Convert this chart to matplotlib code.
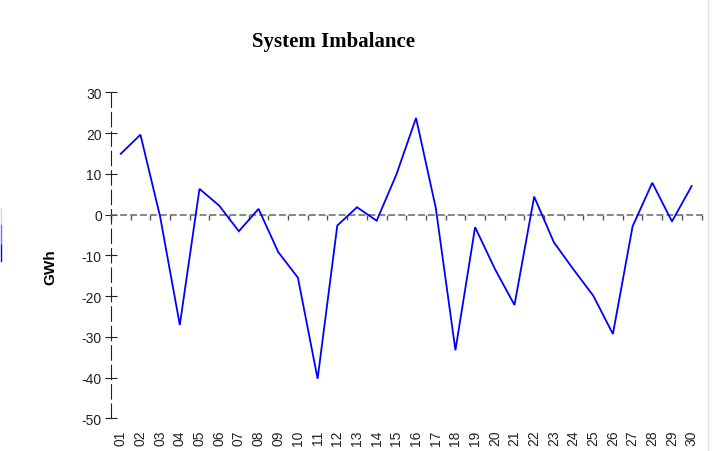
import matplotlib
matplotlib.use("Agg")
import matplotlib.pyplot as plt
from matplotlib.lines import Line2D
import numpy as np

days = ["01", "02", "03", "04", "05", "06", "07", "08", "09", "10",
        "11", "12", "13", "14", "15", "16", "17", "18", "19", "20",
        "21", "22", "23", "24", "25", "26", "27", "28", "29", "30"]
imbalance = [14.9, 19.6, -0.5, -27.1, 6.3, 2.2, -4.1, 1.4, -9.2, -15.5,
             -40.3, -2.7, 1.8, -1.5, 9.8, 23.7, 1.7, -33.3, -3.1, -13.3,
             -22.2, 4.4, -6.8, -13.5, -19.9, -29.3, -2.9, 7.8, -1.7, 7.0]
y_ticks = [30, 20, 10, 0, -10, -20, -30, -40, -50]

W, H = 712, 452
fig = plt.figure(figsize=(W / 100, H / 100), dpi=100)
ax = fig.add_axes([110.9 / W, (H - 419.3) / H, 590.6 / W, 326.0 / H])

x = np.arange(len(days))
ax.plot(x, imbalance, color="#0000ff", lw=1.3, zorder=3, solid_joinstyle="miter")

ax.set_xlim(-0.5, len(days) - 0.5)
ax.set_ylim(-50, 30)

# spines
for s in ["top", "right"]:
    ax.spines[s].set_visible(False)
ax.spines["left"].set_linestyle((0, (13, 4.5)))
ax.spines["left"].set_linewidth(0.8)
ax.spines["left"].set_color("#222222")
ax.spines["bottom"].set_position(("data", 0))
ax.spines["bottom"].set_linestyle((0, (3.5, 3.0)))
ax.spines["bottom"].set_linewidth(1.1)
ax.spines["bottom"].set_color("#666666")

# y ticks
ax.set_yticks(y_ticks)
ax.set_yticklabels([str(v) for v in y_ticks], family="Liberation Sans", fontsize=10, color="#222222")
ax.tick_params(axis="y", direction="inout", length=9, width=0.8, color="#222222", pad=2)

# x axis at zero: boundary ticks only
ax.set_xticks(x)
ax.set_xticklabels([])
ax.tick_params(axis="x", which="major", length=0)
ax.set_xticks(np.arange(len(days) + 1) - 0.5, minor=True)
ax.tick_params(axis="x", which="minor", direction="out", length=3.5, width=1.0, color="#555555")

# category labels at bottom
sec = ax.secondary_xaxis("bottom")
sec.set_xticks(x)
sec.set_xticklabels(days, rotation=90, family="Liberation Sans", fontsize=10, color="#222222")
sec.tick_params(axis="x", length=0, pad=8)
sec.spines["bottom"].set_visible(False)

fig.text(333.5 / W, 1 - 41.7 / H, "System Imbalance", ha="center", va="center",
         family="Liberation Serif", fontweight="bold", fontsize=15)
fig.text(50 / W, 1 - 267 / H, "GWh", ha="center", va="center", rotation=90,
         family="Liberation Sans", fontweight="bold", fontsize=11)

# edge artifacts
fig.add_artist(Line2D([707.5 / W, 707.5 / W], [0, 1], transform=fig.transFigure,
                      color="#dde2ea", lw=1.0))
fig.add_artist(Line2D([0.5 / W, 0.5 / W], [1 - 262 / H, 1 - 245 / H], transform=fig.transFigure,
                      color="#0000ff", lw=1.0))
fig.add_artist(Line2D([0.5 / W, 0.5 / W], [1 - 245 / H, 1 - 225 / H], transform=fig.transFigure,
                      color="#7070ff", lw=1.0))
fig.add_artist(Line2D([0.5 / W, 0.5 / W], [1 - 225 / H, 1 - 210 / H], transform=fig.transFigure,
                      color="#d0d0ff", lw=1.0))

fig.savefig("out.png", dpi=100)
